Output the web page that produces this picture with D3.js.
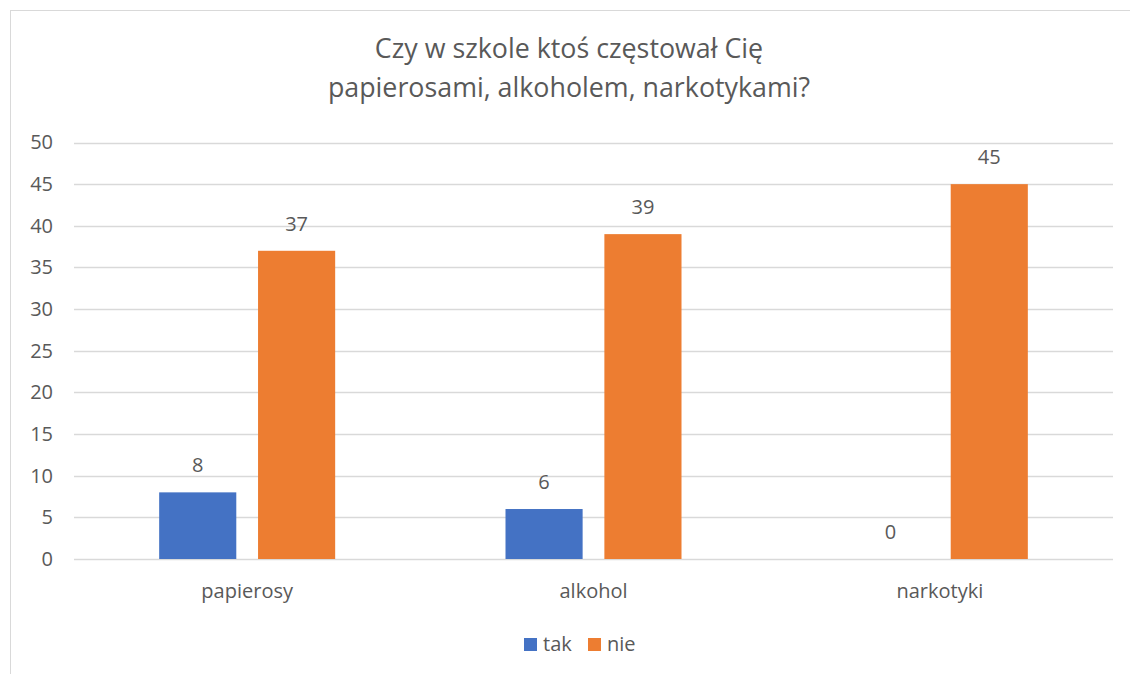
<!DOCTYPE html>
<html>
<head>
<meta charset="utf-8">
<script src="https://cdn.jsdelivr.net/npm/d3@7"></script>
<style>
  body { margin: 0; background: #fff; }
  svg text { font-family: "Open Sans", sans-serif; fill: #595959; }
</style>
</head>
<body>
<svg width="1130" height="674"></svg>
<script>
// data
var categories = ["papierosy", "alkohol", "narkotyki"];
var seriesNames = ["tak", "nie"];
var takValues = [8, 6, 0];
var nieValues = [37, 39, 45];
var yTicks = [0, 5, 10, 15, 20, 25, 30, 35, 40, 45, 50];
var titleLines = ["Czy w szkole ktoś częstował Cię", "papierosami, alkoholem, narkotykami?"];
var colors = { "tak": "#4472C4", "nie": "#ED7D31" };

var svg = d3.select("svg"),
    width = +svg.attr("width"),
    height = +svg.attr("height");

// chart border
svg.append("rect")
    .attr("x", 10.5).attr("y", 10.5)
    .attr("width", width + 10).attr("height", height + 10)
    .attr("fill", "none")
    .attr("stroke", "#d9d9d9");

// title
svg.append("g").selectAll("text")
    .data(titleLines)
    .enter().append("text")
    .attr("x", 569)
    .attr("y", (d, i) => 58 + i * 39)
    .attr("text-anchor", "middle")
    .attr("font-size", 26.8)
    .text(d => d);

var x0 = d3.scaleBand().domain(categories).range([74, 1113]);
var x1 = d3.scaleBand().domain(seriesNames).range([0, 176]).paddingInner(0.22);
var y = d3.scaleLinear().domain([0, 50]).range([559, 142.5]);

// gridlines
svg.append("g").selectAll("line")
    .data(yTicks)
    .enter().append("line")
    .attr("x1", 74).attr("x2", 1113)
    .attr("y1", d => Math.round(y(d)) + 0.5)
    .attr("y2", d => Math.round(y(d)) + 0.5)
    .attr("stroke", "#d9d9d9")
    .attr("stroke-width", 1.3);

// y axis labels
var yAxis = d3.axisLeft(y).tickValues(yTicks).tickSize(0).tickPadding(0);
var yg = svg.append("g")
    .attr("transform", "translate(53,0)")
    .call(yAxis);
yg.select(".domain").remove();
yg.selectAll("text").attr("font-size", 20).attr("font-family", null).attr("fill", null);

// x axis labels
var xAxis = d3.axisBottom(x0).tickSize(0).tickPadding(0);
var xg = svg.append("g")
    .attr("transform", "translate(0,584)")
    .call(xAxis);
xg.select(".domain").remove();
xg.selectAll("text").attr("font-size", 20).attr("font-family", null).attr("fill", null);

// bars
var rows = categories.map((c, i) => ({ cat: c, values: [
    { key: "tak", value: takValues[i] },
    { key: "nie", value: nieValues[i] }
] }));

var groups = svg.append("g").selectAll("g")
    .data(rows)
    .enter().append("g")
    .attr("transform", d => "translate(" + (x0(d.cat) + x0.bandwidth() / 2 - 88) + ",0)");

groups.selectAll("rect")
    .data(d => d.values)
    .enter().append("rect")
    .attr("x", d => x1(d.key))
    .attr("y", d => y(d.value))
    .attr("width", x1.bandwidth())
    .attr("height", d => y(0) - y(d.value))
    .attr("fill", d => colors[d.key]);

groups.selectAll("text")
    .data(d => d.values)
    .enter().append("text")
    .attr("x", d => x1(d.key) + x1.bandwidth() / 2)
    .attr("y", d => y(d.value) - 20)
    .attr("text-anchor", "middle")
    .attr("font-size", 20)
    .text(d => d.value);

// legend
var legend = svg.append("g").selectAll("g")
    .data(seriesNames)
    .enter().append("g")
    .attr("transform", (d, i) => "translate(" + (524 + i * 64) + ",638)");
legend.append("rect")
    .attr("width", 13).attr("height", 13)
    .attr("fill", d => colors[d]);
legend.append("text")
    .attr("x", 19).attr("y", 13)
    .attr("font-size", 20)
    .text(d => d);
</script>
</body>
</html>
